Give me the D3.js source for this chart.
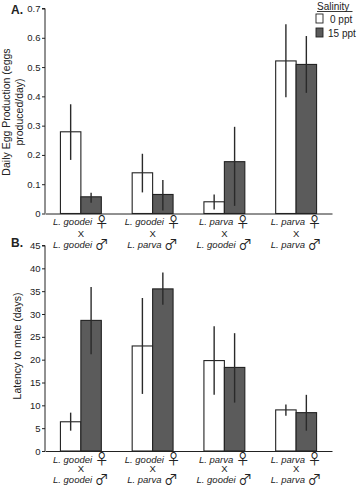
<!DOCTYPE html>
<html><head><meta charset="utf-8">
<script src="https://cdn.jsdelivr.net/npm/d3@7"></script>
<style>body{margin:0;background:#fff}svg{display:block}text{font-family:"Liberation Sans",Arial,sans-serif;fill:#222}</style>
</head><body><svg id="c" width="360" height="489"></svg>
<script>
const crosses = [
  {f:"L. goodei", m:"L. goodei"},
  {f:"L. goodei", m:"L. parva"},
  {f:"L. parva", m:"L. goodei"},
  {f:"L. parva", m:"L. parva"}
];
const series = ["0 ppt", "15 ppt"];
// Panel A: daily egg production
const eggMean0 = [0.279, 0.139, 0.040, 0.521];
const eggLo0   = [0.183, 0.072, 0.014, 0.397];
const eggHi0   = [0.373, 0.204, 0.065, 0.646];
const eggMean15 = [0.057, 0.065, 0.177, 0.509];
const eggLo15   = [0.037, 0.010, 0.026, 0.412];
const eggHi15   = [0.071, 0.114, 0.296, 0.606];
const eggTicks = [0, 0.1, 0.2, 0.3, 0.4, 0.5, 0.6, 0.7];
// Panel B: latency to mate
const latMean0 = [6.4, 23.0, 19.8, 9.0];
const latLo0   = [4.45, 12.5, 12.3, 7.7];
const latHi0   = [8.4, 33.5, 27.3, 10.2];
const latMean15 = [28.6, 35.5, 18.3, 8.4];
const latLo15   = [21.2, 32.0, 10.6, 4.45];
const latHi15   = [35.9, 39.1, 25.8, 12.3];
const latTicks = [0, 5, 10, 15, 20, 25, 30, 35, 40, 45];

const colors = ["#ffffff", "#5b5b5b"];
const svg = d3.select("#c");

function panel(opt){
  const g = svg.append("g");
  const x = d3.scaleBand().domain(d3.range(crosses.length)).range([45, 332]).paddingInner(0.43).paddingOuter(0.215);
  const xs = d3.scaleBand().domain(series).range([0, x.bandwidth()]);
  const y = d3.scaleLinear().domain(opt.domain).range([opt.y0, opt.y1]);
  const data = [];
  crosses.forEach((c,i)=>{
    series.forEach((s,j)=>{
      data.push({i, s, j, v: opt.mean[j][i], lo: opt.lo[j][i], hi: opt.hi[j][i]});
    });
  });
  g.selectAll("rect.bar").data(data).enter().append("rect")
    .attr("x", d=>x(d.i)+xs(d.s)).attr("width", xs.bandwidth())
    .attr("y", d=>y(d.v)).attr("height", d=>y(0)-y(d.v))
    .attr("fill", d=>colors[d.j]).attr("stroke", "#222").attr("stroke-width", 1.1);
  g.selectAll("line.err").data(data).enter().append("line")
    .attr("x1", d=>x(d.i)+xs(d.s)+xs.bandwidth()/2).attr("x2", d=>x(d.i)+xs(d.s)+xs.bandwidth()/2)
    .attr("y1", d=>y(d.lo)).attr("y2", d=>y(d.hi))
    .attr("stroke", "#2a2a2a").attr("stroke-width", 1.4);
  // y axis
  const ya = g.append("g").attr("transform","translate(45,0)")
    .call(d3.axisLeft(y).tickValues(opt.ticks).tickSize(3).tickPadding(1.5).tickFormat(opt.fmt));
  ya.select(".domain").attr("stroke","#222").attr("d", `M-3,${y(opt.domain[1])}H0V${y(0)}`);
  ya.selectAll(".tick line").attr("stroke","#222");
  ya.selectAll(".tick text").attr("font-size", 9.5).attr("fill","#222").attr("font-family","Liberation Sans, Arial, sans-serif");
  // x axis line
  g.append("g").attr("transform",`translate(0,${y(0)})`)
    .call(d3.axisBottom(x).tickSize(0).tickFormat(""))
    .select(".domain").attr("stroke","#222");
  // x labels
  const sym = "Noto Sans CJK JP, DejaVu Sans";
  crosses.forEach((c,i)=>{
    const cx = x(i) + x.bandwidth()/2;
    const t1 = g.append("text").attr("x", cx).attr("y", opt.lab[0]).attr("text-anchor","middle").attr("font-size",9.5);
    t1.append("tspan").attr("font-style","italic").text(c.f + " ");
    t1.append("tspan").attr("font-size",14).attr("dy",1.5).attr("font-family",sym).text("♀");
    g.append("text").attr("x", cx).attr("y", opt.lab[1]).attr("text-anchor","middle").attr("font-size",9.5).text("X");
    const t3 = g.append("text").attr("x", cx).attr("y", opt.lab[2]).attr("text-anchor","middle").attr("font-size",9.5);
    t3.append("tspan").attr("font-style","italic").text(c.m + " ");
    t3.append("tspan").attr("font-size",14).attr("dy",1).attr("font-family",sym).text("♂");
  });
  // panel letter
  svg.append("text").attr("x", 11).attr("y", opt.letterY).attr("font-size", 12).attr("font-weight","bold").text(opt.letter);
  // y label
  const yl = svg.append("text").attr("transform",`translate(${opt.ylx},${opt.yly}) rotate(-90)`).attr("text-anchor","middle").attr("font-size",10.5);
  opt.ylabel.forEach((l,k)=>yl.append("tspan").attr("x",0).attr("dy", k===0?0:13).text(l));
  return {x, y};
}

panel({domain:[0,0.7], y0:213.5, y1:8.5, ticks:eggTicks, fmt:d=>d===0?"0":d3.format(".1f")(d),
  mean:[eggMean0, eggMean15], lo:[eggLo0, eggLo15], hi:[eggHi0, eggHi15],
  lab:[225, 236.5, 248], letter:"A.", letterY:14, ylx:10, yly:112,
  ylabel:["Daily Egg Production (eggs","produced/day)"]});
panel({domain:[0,45], y0:451, y1:245.5, ticks:latTicks, fmt:d3.format("d"),
  mean:[latMean0, latMean15], lo:[latLo0, latLo15], hi:[latHi0, latHi15],
  lab:[462.5, 472, 483], letter:"B.", letterY:247, ylx:21, yly:346,
  ylabel:["Latency to mate (days)"]});

// legend
const lg = svg.append("g");
lg.append("text").attr("x", 317).attr("y", 9.5).attr("font-size", 10).text("Salinity");
lg.append("line").attr("x1",317).attr("x2",352.5).attr("y1",11.5).attr("y2",11.5).attr("stroke","#222").attr("stroke-width",0.9);
series.forEach((s,j)=>{
  lg.append("rect").attr("x",316).attr("y",14+j*14).attr("width",7).attr("height",9)
    .attr("fill",colors[j]).attr("stroke","#222").attr("stroke-width",0.9);
  lg.append("text").attr("x", j===0?330:328).attr("y", 22.5+j*14).attr("font-size",10).text(s);
});
</script></body></html>
